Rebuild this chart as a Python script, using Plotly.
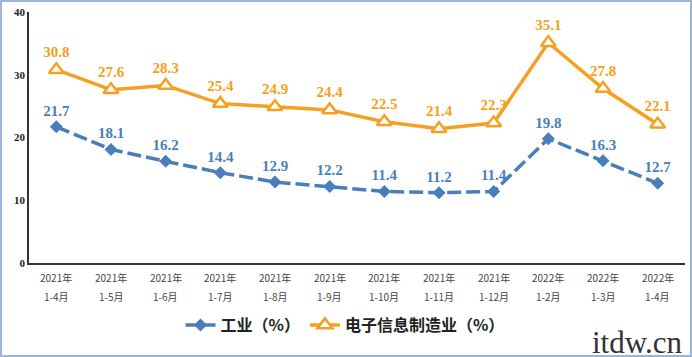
import plotly.graph_objects as go

years = ["2021年"] * 9 + ["2022年"] * 3
months = ["1-4月", "1-5月", "1-6月", "1-7月", "1-8月", "1-9月", "1-10月", "1-11月",
          "1-12月", "1-2月", "1-3月", "1-4月"]
categories = [y + m for y, m in zip(years, months)]
industry = [21.7, 18.1, 16.2, 14.4, 12.9, 12.2, 11.4, 11.2, 11.4, 19.8, 16.3, 12.7]
electronics = [30.8, 27.6, 28.3, 25.4, 24.9, 24.4, 22.5, 21.4, 22.3, 35.1, 27.8, 22.1]
y_ticks = [0, 10, 20, 30, 40]

W, H = 692, 357
L, R, T, B = 29, 7, 12, 94
pw, ph = W - L - R, H - T - B

def px(x):
    return (x - L) / pw

def py(y):
    return (H - B - y) / ph

blue = "#4A7EBB"
orange = "#F5A020"

fig = go.Figure()
fig.add_trace(go.Scatter(
    x=categories, y=industry, name="工业（%）", mode="lines+markers+text",
    line=dict(color=blue, width=3.5, dash="14px,5px"),
    marker=dict(symbol="diamond", size=10, color=blue),
    text=[f"{v:.1f}" for v in industry], textposition="top center",
    textfont=dict(family="Liberation Serif", size=15, color=blue, weight="bold"),
))
fig.add_trace(go.Scatter(
    x=categories, y=electronics, name="电子信息制造业（%）", mode="lines+markers+text",
    line=dict(color=orange, width=3.5),
    marker=dict(symbol="triangle-up", size=13, color="white", line=dict(color=orange, width=2.5)),
    text=[f"{v:.1f}" for v in electronics], textposition="top center",
    textfont=dict(family="Liberation Serif", size=15, color=orange, weight="bold"),
))

annotations = []
for c, yv, m in zip(categories, years, months):
    annotations.append(dict(text=yv, x=c, xref="x", y=py(277), yref="paper", showarrow=False,
                            xanchor="center", yanchor="middle",
                            font=dict(family="Noto Sans CJK SC", size=10, color="#444")))
    annotations.append(dict(text=m, x=c, xref="x", y=py(297), yref="paper", showarrow=False,
                            xanchor="center", yanchor="middle",
                            font=dict(family="Noto Sans CJK SC", size=10, color="#444")))
annotations.append(dict(text="itdw.cn", xref="paper", yref="paper", x=px(590), y=py(362),
                        xanchor="left", yanchor="bottom", showarrow=False,
                        font=dict(family="Liberation Serif", size=31, color="#333")))

fig.update_layout(
    width=W, height=H,
    margin=dict(l=L, r=R, t=T, b=B, autoexpand=False),
    paper_bgcolor="white", plot_bgcolor="white",
    showlegend=True,
    legend=dict(orientation="h", x=px(345), xanchor="center", y=py(325), yanchor="middle",
                font=dict(family="Noto Sans CJK SC", size=16, color="#222", weight="bold"),
                itemwidth=30, tracegroupgap=0),
    xaxis=dict(type="category", range=[-0.5, 11.5], showline=True, linecolor="#333", linewidth=1.5,
               showgrid=False, ticks="", showticklabels=False, automargin=False),
    yaxis=dict(range=[0, 40], tickvals=y_ticks, showline=True, linecolor="#333", linewidth=1.5,
               showgrid=False, zeroline=False, ticks="", automargin=False,
               tickfont=dict(family="Liberation Serif", size=11, color="#222", weight="bold")),
    shapes=[dict(type="rect", xref="paper", yref="paper",
                 x0=px(1), x1=px(W - 1), y0=py(H - 1), y1=py(1),
                 line=dict(color="#9DB5D8", width=2), fillcolor="rgba(0,0,0,0)", layer="above")],
    annotations=annotations,
)
fig.write_html("out.html", config={"displayModeBar": False},
               post_script="document.body.style.margin='0';document.body.style.overflow='hidden';")
